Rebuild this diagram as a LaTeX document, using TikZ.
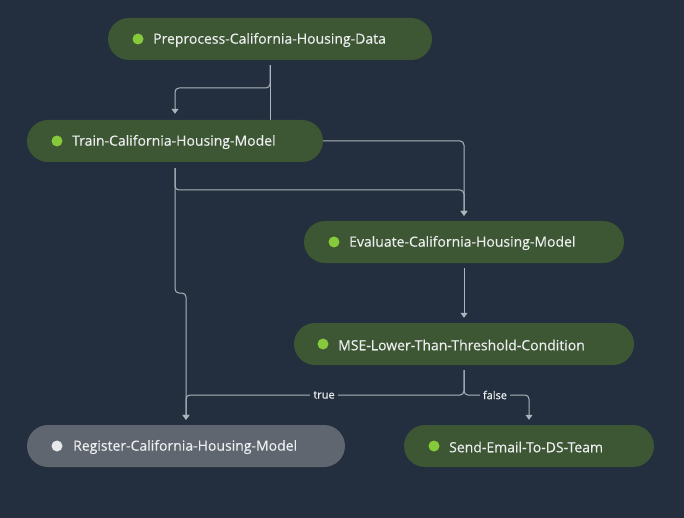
\documentclass[tikz,border=0pt]{standalone}
\usepackage{fontspec}
\setmainfont{Open Sans}
\newfontfamily\lblfont[FakeBold=0.3]{Open Sans}
\usetikzlibrary{arrows.meta,calc}
\pgfdeclarelayer{back}
\pgfdeclarelayer{bg}
\pgfsetlayers{back,bg,main}
\definecolor{bgc}{HTML}{232F3E}
\definecolor{nodegreen}{HTML}{3D5634}
\definecolor{nodegrey}{HTML}{5F6670}
\definecolor{dotgreen}{HTML}{86C93A}
\definecolor{dotwhite}{HTML}{E6E8EA}
\definecolor{txt}{HTML}{ECEEEF}
\definecolor{edge}{HTML}{AEB4BB}
\tikzset{
  pill/.style={draw=none, fill=nodegreen, rounded corners=21pt, minimum height=42pt, inner sep=0pt},
  greypill/.style={pill, fill=nodegrey},
  lbl/.style={anchor=west, text=txt, font=\lblfont\fontsize{14}{16}\selectfont, inner sep=0pt, yshift=-1pt},
  edgelbl/.style={fill=bgc, text=txt, font=\lblfont\fontsize{11}{13}\selectfont, inner xsep=3pt, inner ysep=1pt},
  conn/.style={draw=edge, line width=1pt, rounded corners=4pt},
  arr/.style={conn, -{Triangle[width=7pt,length=5pt]}, shorten >=5pt, shorten <=5pt},
}
\begin{document}
\begin{tikzpicture}[x=1pt,y=-1pt]
\begin{pgfonlayer}{back}
\fill[bgc] (0,0) rectangle (684,518);
\end{pgfonlayer}
\useasboundingbox (0,0) rectangle (684,518);

\node[pill, minimum width=324pt] (pre) at (270,39) {};
\fill[dotgreen] (138,39) circle (5.5);
\node[lbl] (preT) at (153,39) {Preprocess-California-Housing-Data};

\node[pill, minimum width=296pt] (train) at (175,141) {};
\fill[dotgreen] (57,141) circle (5.5);
\node[lbl] (trainT) at (72,141) {Train-California-Housing-Model};

\node[pill, minimum width=320pt] (eval) at (464,242) {};
\fill[dotgreen] (334,242) circle (5.5);
\node[lbl] (evalT) at (349,242) {Evaluate-California-Housing-Model};

\node[pill, minimum width=340pt] (mse) at (464,344) {};
\fill[dotgreen] (323,344) circle (5.5);
\node[lbl] (mseT) at (338,344) {MSE-Lower-Than-Threshold-Condition};

\node[greypill, minimum width=318pt] (reg) at (186,446) {};
\fill[dotwhite] (57,446) circle (5.5);
\node[lbl] (regT) at (73,446) {Register-California-Housing-Model};

\node[pill, minimum width=250pt] (send) at (529,446) {};
\fill[dotgreen] (434,446) circle (5.5);
\node[lbl] (sendT) at (449,446) {Send-Email-To-DS-Team};

\coordinate (pj) at (270,88);
\coordinate (tj) at (175,190);
\coordinate (sj1) at (175,293);
\coordinate (sj2) at (186,293);
\coordinate (mj) at (464,395);

\begin{pgfonlayer}{bg}
\draw[conn, shorten <=5pt] (pre.south) -- (pre.south |- train.north);
\draw[arr, shorten >=6pt] (pre.south) -- (pj) -| (train.north);
\draw[arr, shorten <=0pt] (train.east) -| (eval.north);
\draw[arr, shorten <=6pt] (train.south) -- (tj) -| (eval.north);
\draw[arr, shorten <=6pt] (train.south) -- (sj1) -- (sj2) -- (reg.north);
\draw[arr] (eval.south) -- (mse.north);
\draw[arr] (mse.south) -- (mj) -| (reg.north);
\draw[arr] (mse.south) -- (mj) -| (send.north);
\end{pgfonlayer}
\node[edgelbl] (tl) at (324,395) {true};
\node[edgelbl] (fl) at (495,395) {false};
\end{tikzpicture}
\end{document}
